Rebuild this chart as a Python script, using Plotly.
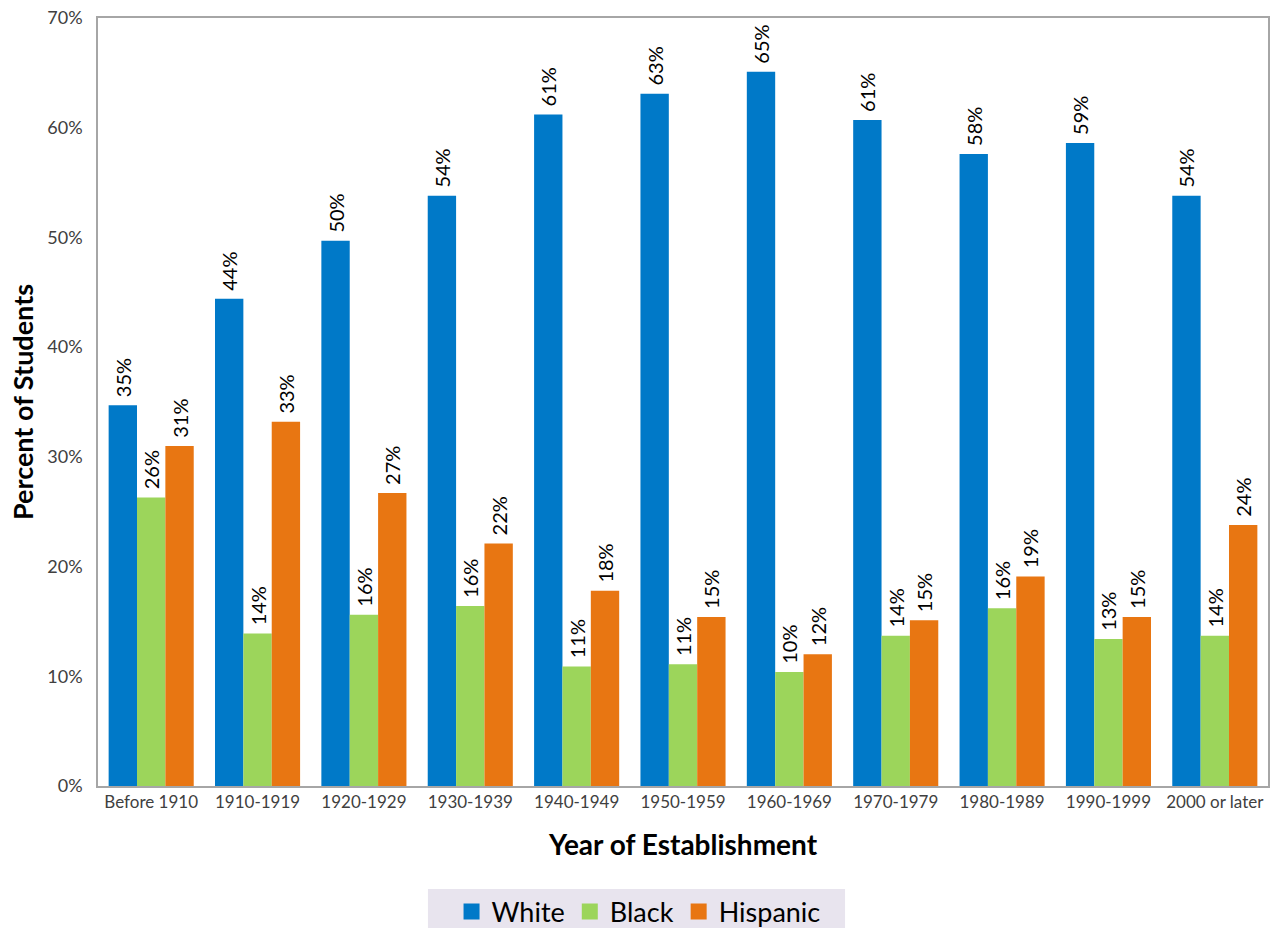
import plotly.graph_objects as go

# Share of students by race/ethnicity, grouped by school establishment period
periods = ["Before 1910", "1910-1919", "1920-1929", "1930-1939", "1940-1949",
           "1950-1959", "1960-1969", "1970-1979", "1980-1989", "1990-1999",
           "2000 or later"]
white = [34.7, 44.4, 49.7, 53.8, 61.2, 63.1, 65.1, 60.7, 57.6, 58.6, 53.8]
black = [26.3, 13.9, 15.6, 16.4, 10.9, 11.1, 10.4, 13.7, 16.2, 13.4, 13.7]
hispanic = [31.0, 33.2, 26.7, 22.1, 17.8, 15.4, 12.0, 15.1, 19.1, 15.4, 23.8]

series = [("White", white, "#0079C8"),
          ("Black", black, "#9CD55B"),
          ("Hispanic", hispanic, "#E87612")]

FONT = "Lato, 'Noto Sans', sans-serif"

fig = go.Figure()
for name, vals, color in series:
    fig.add_trace(go.Bar(
        x=periods, y=vals, name=name, showlegend=False,
        marker=dict(color=color, line=dict(width=0)),
        texttemplate="\u00a0%{y:.0f}%", textposition="outside",
        textangle=-90, cliponaxis=False, constraintext="none",
        textfont=dict(family=FONT, size=20, color="#000000"),
    ))

# Legend entries drawn with larger square swatches
for name, vals, color in series:
    fig.add_trace(go.Scatter(
        x=[None], y=[None], mode="markers", name=name,
        marker=dict(symbol="square", size=17, color=color),
        showlegend=True,
    ))

# Shaded panel behind the legend
fig.add_shape(
    type="rect", xref="paper", yref="paper",
    x0=0.282, x1=0.6385, y0=-0.19, y1=-0.134,
    fillcolor="#E8E4EE", line=dict(width=0), layer="below",
)

fig.update_layout(
    width=1276, height=928,
    margin=dict(l=98, r=8, t=18, b=142, autoexpand=False),
    paper_bgcolor="white", plot_bgcolor="white",
    barmode="group", bargap=0.2, bargroupgap=0,
    font=dict(family=FONT, color="#404040"),
    showlegend=True,
    legend=dict(
        orientation="h", x=0.462, xanchor="center", y=-0.132, yanchor="top",
        bgcolor="rgba(0,0,0,0)", font=dict(family=FONT, size=27, color="#000000"),
        itemsizing="trace", traceorder="normal", itemwidth=30,
    ),
    xaxis=dict(
        showline=True, linecolor="#A6A6A6", linewidth=1.5, mirror=True,
        ticks="", tickfont=dict(size=17, color="#404040"),
        title=dict(text="<b>Year of Establishment</b>",
                   font=dict(size=28, color="#000000"), standoff=24),
    ),
    yaxis=dict(
        range=[0, 70], dtick=10, ticksuffix="%",
        showline=True, linecolor="#A6A6A6", linewidth=1.5, mirror=True,
        showgrid=False, zeroline=False, ticks="", ticklabelstandoff=10,
        tickfont=dict(size=18, color="#404040"),
        title=dict(text="<b>Percent of Students</b>",
                   font=dict(size=27, color="#000000"), standoff=6),
    ),
)

fig.write_html("out.html")
